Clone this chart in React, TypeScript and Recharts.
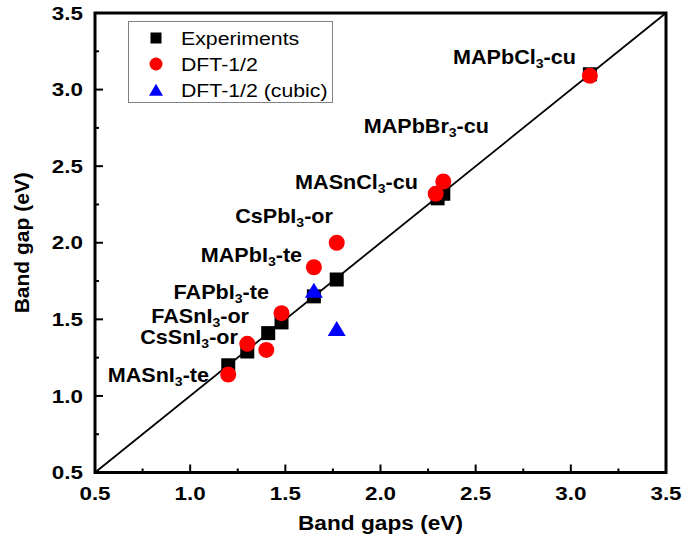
import React from 'react';
import {
  ScatterChart,
  Scatter,
  XAxis,
  YAxis,
  ReferenceLine,
  ReferenceArea,
  Legend,
  Label,
} from 'recharts';

const FONT = '"Liberation Sans", Arial, sans-serif';

// Experimental band gaps (x = reference gap, y = plotted gap)
const expX = [1.2, 1.3, 1.41, 1.48, 1.65, 1.77, 2.3, 2.33, 3.1];
const expY = [1.2, 1.29, 1.41, 1.48, 1.65, 1.76, 2.29, 2.32, 3.1];

// DFT-1/2 results
const dftX = [1.2, 1.3, 1.4, 1.48, 1.65, 1.77, 2.29, 2.33, 3.1];
const dftY = [1.14, 1.34, 1.3, 1.54, 1.84, 2.0, 2.32, 2.4, 3.09];

// DFT-1/2 with cubic structure
const cubicX = [1.65, 1.77];
const cubicY = [1.68, 1.43];

// compound annotations: [name, subscript, phase]
const labelParts: [string, string, string][] = [
  ['MAPbCl', '3', '-cu'],
  ['MAPbBr', '3', '-cu'],
  ['MASnCl', '3', '-cu'],
  ['CsPbI', '3', '-or'],
  ['MAPbI', '3', '-te'],
  ['FAPbI', '3', '-te'],
  ['FASnI', '3', '-or'],
  ['CsSnI', '3', '-or'],
  ['MASnI', '3', '-te'],
];
// where each annotation ends (data units)
const labelX = [3.027, 2.57, 2.197, 1.75, 1.588, 1.414, 1.309, 1.251, 1.099];
const labelY = [3.167, 2.716, 2.351, 2.129, 1.874, 1.636, 1.473, 1.336, 1.094];

const axisTicks = [0.5, 0.75, 1, 1.25, 1.5, 1.75, 2, 2.25, 2.5, 2.75, 3, 3.25, 3.5];
const seriesNames = ['Experiments', 'DFT-1/2', 'DFT-1/2 (cubic)'];

const toPoints = (xs: number[], ys: number[]) => xs.map((x, i) => ({ x, y: ys[i] }));

function Stretch({ x, y, sx = 1, anchor = 'start', size, weight = 'normal', children }: any) {
  return (
    <text
      transform={`translate(${x},${y}) scale(${sx},1)`}
      textAnchor={anchor}
      fontSize={size}
      fontWeight={weight}
      fontFamily={FONT}
      fill="#000"
    >
      {children}
    </text>
  );
}

const isMajor = (v: number) => Math.abs(v * 2 - Math.round(v * 2)) < 1e-6;

function XTick(props: any) {
  const { x, y, payload } = props;
  const major = isMajor(payload.value);
  return (
    <g>
      <line x1={x} x2={x} y1={y} y2={y - (major ? 8 : 4)} stroke="#000" strokeWidth={2} />
      {major && (
        <Stretch x={x} y={y + 27} anchor="middle" size={19} sx={1.18} weight="bold">
          {payload.value.toFixed(1)}
        </Stretch>
      )}
    </g>
  );
}

function YTick(props: any) {
  const { x, y, payload } = props;
  const major = isMajor(payload.value);
  return (
    <g>
      <line x1={x} x2={x + (major ? 8 : 4)} y1={y} y2={y} stroke="#000" strokeWidth={2} />
      {major && (
        <Stretch x={x - 12} y={y + 6.7} anchor="end" size={19} sx={1.18} weight="bold">
          {payload.value.toFixed(1)}
        </Stretch>
      )}
    </g>
  );
}

const Square = ({ cx, cy, s = 14 }: any) => (
  <rect x={cx - s / 2} y={cy - s / 2} width={s} height={s} fill="#000" />
);
const Dot = ({ cx, cy, r = 8 }: any) => <circle cx={cx} cy={cy} r={r} fill="#ff0000" />;
const Tri = ({ cx, cy, w = 18, h = 15 }: any) => (
  <polygon
    points={`${cx},${cy - h * 0.6} ${cx - w / 2},${cy + h * 0.4} ${cx + w / 2},${cy + h * 0.4}`}
    fill="#0000ff"
  />
);

const CompoundLabel = (props: any) => {
  const [name, sub, phase] = props.payload.parts;
  return (
    <Stretch x={props.cx} y={props.cy} anchor="end" size={20} sx={1.08} weight="bold">
      {name}
      <tspan fontSize={13} dy={4}>{sub}</tspan>
      <tspan dy={-4}>{phase}</tspan>
    </Stretch>
  );
};

function LegendBox() {
  const icons = [
    <Square cx={27} cy={16} s={11} />,
    <Dot cx={27} cy={42} r={6.5} />,
    <Tri cx={27} cy={69} w={14} h={12} />,
  ];
  return (
    <div style={{ width: 205, height: 82, border: '1px solid #808080', boxSizing: 'border-box', background: '#fff' }}>
      <svg width={203} height={80} style={{ display: 'block' }}>
        {seriesNames.map((name, i) => (
          <g key={name}>
            {icons[i]}
            <Stretch x={52} y={22.6 + i * 26} size={19} sx={1.12}>
              {name}
            </Stretch>
          </g>
        ))}
      </svg>
    </div>
  );
}

export default function App() {
  const labelData = labelX.map((x, i) => ({ x, y: labelY[i], parts: labelParts[i] }));
  return (
    <div style={{ position: 'absolute', left: 0, top: 0, background: '#fff' }}>
      <ScatterChart width={685} height={550} margin={{ top: 13, right: 19, bottom: 37.5, left: 35 }}>
        <XAxis
          type="number"
          dataKey="x"
          domain={[0.5, 3.5]}
          ticks={axisTicks}
          interval={0}
          tickSize={0}
          tickMargin={0}
          axisLine={false}
          tickLine={false}
          tick={<XTick />}
          height={40}
          allowDataOverflow
        >
          <Label
            content={(p: any) => (
              <Stretch
                x={p.viewBox.x + p.viewBox.width / 2}
                y={p.viewBox.y + 57}
                anchor="middle"
                size={21}
                sx={1.08}
                weight="bold"
              >
                Band gaps (eV)
              </Stretch>
            )}
          />
        </XAxis>
        <YAxis
          type="number"
          dataKey="y"
          domain={[0.5, 3.5]}
          ticks={axisTicks}
          interval={0}
          tickSize={0}
          tickMargin={0}
          axisLine={false}
          tickLine={false}
          tick={<YTick />}
          width={60}
          allowDataOverflow
        >
          <Label
            content={(p: any) => (
              <text
                transform={`translate(${29},${p.viewBox.y + p.viewBox.height / 2}) rotate(-90)`}
                textAnchor="middle"
                fontSize={21}
                fontWeight="bold"
                fontFamily={FONT}
                fill="#000"
              >
                Band gap (eV)
              </text>
            )}
          />
        </YAxis>
        <ReferenceArea x1={0.5} x2={3.5} y1={0.5} y2={3.5} fill="none" stroke="#000" strokeWidth={3} />
        <ReferenceLine
          segment={[
            { x: 0.5, y: 0.5 },
            { x: 3.5, y: 3.5 },
          ]}
          stroke="#000"
          strokeWidth={1.8}
        />
        <Scatter name={seriesNames[0]} data={toPoints(expX, expY)} shape={<Square />} isAnimationActive={false} />
        <Scatter name={seriesNames[1]} data={toPoints(dftX, dftY)} shape={<Dot />} isAnimationActive={false} />
        <Scatter name={seriesNames[2]} data={toPoints(cubicX, cubicY)} shape={<Tri />} isAnimationActive={false} />
        <Scatter data={labelData} shape={<CompoundLabel />} legendType="none" isAnimationActive={false} />
        <Legend
          layout="vertical"
          align="center"
          verticalAlign="middle"
          content={() => <LegendBox />}
          wrapperStyle={{ position: 'absolute', left: 128, top: 21, width: 205, height: 82 }}
        />
      </ScatterChart>
    </div>
  );
}
